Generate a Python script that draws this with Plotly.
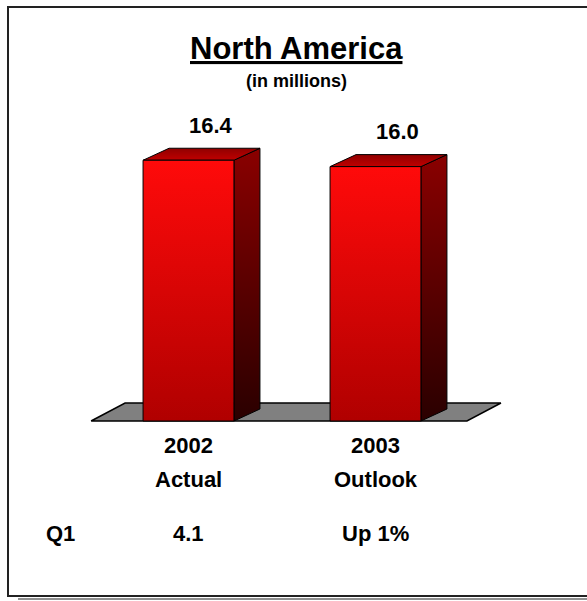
import plotly.graph_objects as go

# ---- data ----
years = ["2002", "2003"]
kinds = ["Actual", "Outlook"]
values = [16.4, 16.0]
value_labels = ["16.4", "16.0"]
q1_label = "Q1"
q1_values = ["4.1", "Up 1%"]

# ---- geometry (axis units) ----
W, H = 587, 601
X_PER_PX = 1 / 187.0
Y_PER_PX = 1 / 15.9
x_range = [-188.5 * X_PER_PX, (W - 188.5) * X_PER_PX]
y_range = [-(H - 421) * Y_PER_PX, 421 * Y_PER_PX]

half_w = 0.243
dx, dy = 26 * X_PER_PX, 12 * Y_PER_PX          # bar depth
floor_left, floor_right = -0.521, 1.489
fdx, fdy = 34 * X_PER_PX, 18 * Y_PER_PX        # floor depth

FONT = "Liberation Sans, Arial, sans-serif"

fig = go.Figure()


def poly(xs, ys, colors, line_color="black", line_w=1):
    fig.add_trace(go.Scatter(
        x=xs + [xs[0]], y=ys + [ys[0]], mode="lines", fill="toself",
        fillgradient=dict(type="vertical",
                          colorscale=[[0, colors[0]], [1, colors[1]]]),
        line=dict(color=line_color, width=line_w),
        hoverinfo="skip", showlegend=False))


# floor
poly([floor_left, floor_right, floor_right + fdx, floor_left + fdx],
     [0, 0, fdy, fdy], ["#808080", "#808080"], line_w=1.5)

# bars: side, top, front
for i, v in enumerate(values):
    x0, x1 = i - half_w, i + half_w
    # side face
    poly([x1, x1 + dx, x1 + dx, x1], [0, dy, v + dy, v],
         ["#2a0000", "#8a0000"])
    # top face
    poly([x0, x1, x1 + dx, x0 + dx], [v, v, v + dy, v + dy],
         ["#c00000", "#900000"])
    # front face
    poly([x0, x1, x1, x0], [0, 0, v, v], ["#b00000", "#ff0a0a"])


def label(x, y, text, size=22, **kw):
    return dict(x=x, y=y, text="<b>%s</b>" % text, showarrow=False,
                xanchor="center", yanchor="middle",
                font=dict(size=size, color="black", family=FONT), **kw)


annotations = []
for i, v in enumerate(values):
    annotations.append(label(i + 0.12, v + 35 * Y_PER_PX, value_labels[i]))
    annotations.append(label(i, -24 * Y_PER_PX, years[i]))
    annotations.append(label(i, -58 * Y_PER_PX, kinds[i]))
    annotations.append(label(i, -112 * Y_PER_PX, q1_values[i]))
annotations.append(label(-0.687, -112 * Y_PER_PX, q1_label))

# titles
annotations.append(label(297 / W, 1 - 48 / H, "<u>North America</u>", size=31,
                         xref="paper", yref="paper"))
annotations.append(label(297 / W, 1 - 81 / H, "(in millions)", size=18,
                         xref="paper", yref="paper"))

shapes = [
    # frame shadow
    dict(type="line", xref="paper", yref="paper", x0=18 / W, x1=1.05,
         y0=1 - 599 / H, y1=1 - 599 / H, line=dict(color="#909090", width=2)),
    # frame
    dict(type="rect", xref="paper", yref="paper", x0=8 / W, x1=1.05,
         y0=1 - 596 / H, y1=1 - 7 / H, line=dict(color="#222222", width=2)),
]

fig.update_layout(
    width=W, height=H, margin=dict(l=0, r=0, t=0, b=0),
    paper_bgcolor="white", plot_bgcolor="white",
    xaxis=dict(range=x_range, visible=False, fixedrange=True),
    yaxis=dict(range=y_range, visible=False, fixedrange=True),
    annotations=annotations, shapes=shapes, showlegend=False,
)

fig.write_html("out.html")
